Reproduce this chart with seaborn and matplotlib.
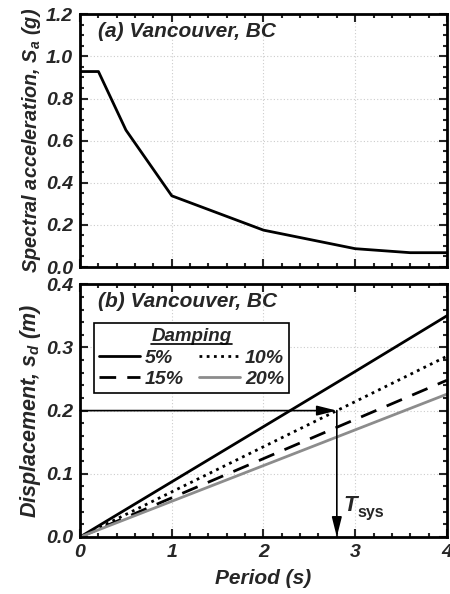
import matplotlib
matplotlib.use("Agg")
import matplotlib.pyplot as plt
import seaborn as sns
import numpy as np
import pandas as pd
from matplotlib.ticker import MultipleLocator
from matplotlib.lines import Line2D

# ---- data ----
period_a = [0.0, 0.2, 0.5, 1.0, 2.0, 3.0, 3.6, 4.0]
sa_g = [0.928, 0.928, 0.65, 0.338, 0.175, 0.087, 0.068, 0.068]

period_b = [0.0, 1.0, 2.0, 3.0, 4.0]
sd_5 = [0.0, 0.0873, 0.1746, 0.2619, 0.350]
sd_10 = [0.0, 0.0714, 0.1428, 0.2142, 0.286]
sd_15 = [0.0, 0.0620, 0.1240, 0.1860, 0.248]
sd_20 = [0.0, 0.0565, 0.1130, 0.1695, 0.226]
damping_labels = ["5%", "10%", "15%", "20%"]
t_sys = 2.8
sd_target = 0.2

sns.set_style("ticks")
plt.rcParams["font.family"] = ["Liberation Sans", "DejaVu Sans"]
plt.rcParams["font.weight"] = "bold"
plt.rcParams["font.style"] = "italic"
plt.rcParams["mathtext.default"] = "regular"

fig = plt.figure(figsize=(4.5, 5.94), dpi=100)
ax1 = fig.add_axes([0.178, 0.5505, 0.815, 0.4255])
ax2 = fig.add_axes([0.178, 0.096, 0.815, 0.4255])

df_a = pd.DataFrame({"T": period_a, "Sa": sa_g})
sns.lineplot(data=df_a, x="T", y="Sa", ax=ax1, color="black", lw=2.0, sort=False)

styles = [
    dict(color="black", ls="-"),
    dict(color="black", ls=(0, (1, 1.6))),
    dict(color="black", ls=(0, (6, 4))),
    dict(color="#8c8c8c", ls="-"),
]
handles = {}
for vals, lab, st in zip([sd_5, sd_10, sd_15, sd_20], damping_labels, styles):
    d = pd.DataFrame({"T": period_b, "Sd": vals})
    sns.lineplot(data=d, x="T", y="Sd", ax=ax2, color=st["color"], lw=2.0, sort=False)
    ax2.lines[-1].set_linestyle(st["ls"])
    handles[lab] = Line2D([], [], color=st["color"], lw=2.0, ls=st["ls"], label=lab)

# arrows
arrow_style = "-|>,head_length=1.2,head_width=0.3"
ax2.annotate("", xy=(t_sys, sd_target), xytext=(0, sd_target),
             arrowprops=dict(arrowstyle=arrow_style, color="black", lw=1.2,
                             shrinkA=0, shrinkB=0))
ax2.annotate("", xy=(t_sys, 0.0), xytext=(t_sys, sd_target),
             arrowprops=dict(arrowstyle=arrow_style, color="black", lw=1.2,
                             shrinkA=0, shrinkB=0))
ax2.annotate("T", xy=(t_sys, 0.05), xytext=(5, 0), textcoords="offset points",
             fontsize=16, fontweight="bold", fontstyle="italic",
             ha="left", va="center")
ax2.annotate("sys", xy=(t_sys, 0.05), xytext=(15, -5), textcoords="offset points",
             fontsize=11.5, fontweight="bold", fontstyle="normal",
             ha="left", va="center")

for ax in (ax1, ax2):
    ax.set_xlim(0, 4)
    ax.xaxis.set_major_locator(MultipleLocator(1))
    ax.xaxis.set_minor_locator(MultipleLocator(0.2))
    ax.tick_params(which="both", direction="in", top=True, right=True, width=1.5)
    ax.tick_params(which="major", length=6, labelsize=14, pad=5)
    ax.tick_params(which="minor", length=3)
    ax.grid(True, which="major", color="#cccccc", ls=(0, (1, 2)), lw=0.8)
    for s in ax.spines.values():
        s.set_linewidth(2.0)
        s.set_color("black")

ax1.set_ylim(0, 1.2)
ax1.set_yticks(np.arange(0, 1.21, 0.2))
ax1.set_yticklabels([f"{v:.1f}" for v in np.arange(0, 1.21, 0.2)])
ax1.yaxis.set_minor_locator(MultipleLocator(0.05))
ax1.tick_params(labelbottom=False)
ax1.set_xlabel("")
ax1.set_ylabel(r"Spectral acceleration, $S_a$ (g)", fontsize=14.3, fontweight="bold",
               fontstyle="italic", labelpad=2)
ax1.text(0.2, 1.12, "(a) Vancouver, BC", fontsize=15, fontweight="bold",
         fontstyle="italic", va="center")

ax2.set_ylim(0, 0.4)
ax2.set_yticks(np.arange(0, 0.41, 0.1))
ax2.set_yticklabels([f"{v:.1f}" for v in np.arange(0, 0.41, 0.1)])
ax2.yaxis.set_minor_locator(MultipleLocator(0.02))
ax2.set_xticks([0, 1, 2, 3, 4])
ax2.set_xticklabels(["0", "1", "2", "3", "4"])
ax2.set_xlabel("Period (s)", fontsize=15, fontweight="bold", fontstyle="italic",
               labelpad=6)
ax2.set_ylabel(r"Displacement, $s_d$ (m)", fontsize=15.5, fontweight="bold",
               fontstyle="italic", labelpad=2)
ax2.text(0.2, 0.373, "(b) Vancouver, BC", fontsize=15, fontweight="bold",
         fontstyle="italic", va="center")
for ax in (ax1, ax2):
    for lab in ax.get_xticklabels() + ax.get_yticklabels():
        lab.set_fontweight("bold")
        lab.set_fontstyle("italic")

order = ["5%", "15%", "10%", "20%"]
leg = ax2.legend(handles=[handles[k] for k in order], ncol=2, title="Damping",
                 loc="upper left", bbox_to_anchor=(0.038, 0.846), frameon=True,
                 fancybox=False, edgecolor="black", framealpha=1,
                 handlelength=2.1, columnspacing=0.8, handletextpad=0.25,
                 labelspacing=0.2, borderpad=0.25, borderaxespad=0,
                 prop=dict(size=14, weight="bold", style="italic"))
leg.get_title().set_fontsize(13.5)
leg.get_title().set_fontweight("bold")
leg.get_title().set_fontstyle("italic")
leg.get_frame().set_linewidth(1.2)

fig.canvas.draw()
bb = leg.get_title().get_window_extent().transformed(fig.transFigure.inverted())
fig.add_artist(Line2D([bb.x0, bb.x1], [bb.y0 + 0.002, bb.y0 + 0.002],
                      color="black", lw=1.2, transform=fig.transFigure))

fig.savefig("out.png", dpi=100)
